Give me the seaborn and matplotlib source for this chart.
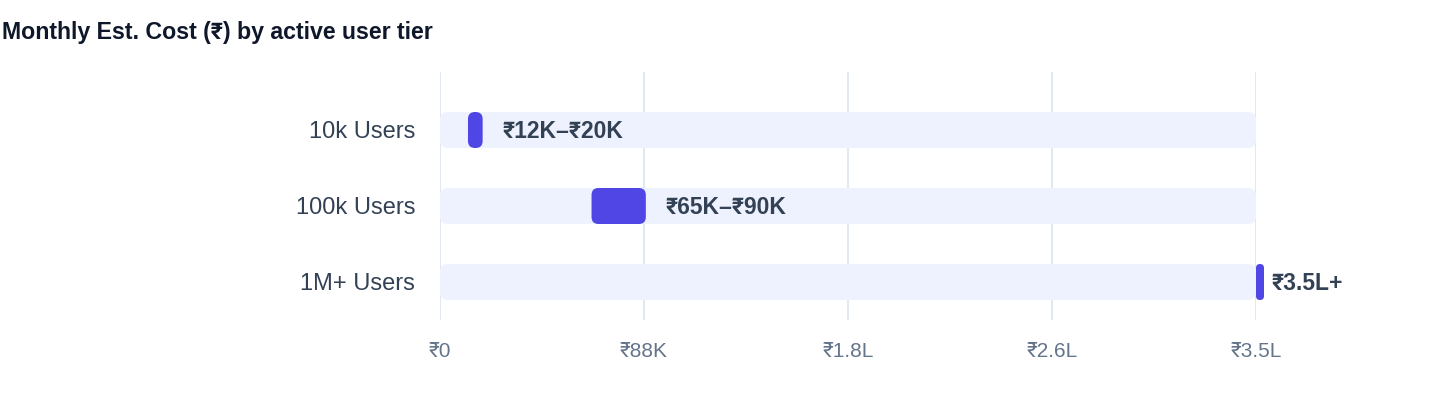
import matplotlib
matplotlib.use("Agg")
import matplotlib.pyplot as plt
from matplotlib.patches import FancyBboxPatch
import seaborn as sns
import pandas as pd

# ---- data ----
tiers = ["10k Users", "100k Users", "1M+ Users"]
cost_low = [12000, 65000, 350000]
cost_high = [20000, 90000, 350000]
track_max = [350000, 350000, 350000]
range_labels = ["₹12K–₹20K", "₹65K–₹90K", "₹3.5L+"]
tick_values = [0, 87500, 175000, 262500, 350000]
tick_labels = ["₹0", "₹88K", "₹1.8L", "₹2.6L", "₹3.5L"]
title = "Monthly Est. Cost (₹) by active user tier"

# ---- style ----
sns.set_theme(style="white")
FONTS = ["Liberation Sans", "Roboto", "DejaVu Sans"]
plt.rcParams["font.family"] = FONTS

C_TRACK = "#eef1fe"
C_BAR = "#4f46e5"
C_GRID = "#e2e8f0"
C_YLAB = "#334155"
C_XLAB = "#64748b"
C_TITLE = "#0f172a"

W, H = 1440, 408
fig = plt.figure(figsize=(W / 100, H / 100), dpi=100)
ax_left, ax_right, ax_top, ax_bot = 440, 1256, 72, 320
ax = fig.add_axes([ax_left / W, 1 - ax_bot / H, (ax_right - ax_left) / W, (ax_bot - ax_top) / H])

df = pd.DataFrame({"tier": tiers, "lo": cost_low, "hi": cost_high, "track": track_max})

row_px = 76.0
bar_h = 36.0 / row_px

sns.barplot(data=df, y="tier", x="track", color=C_TRACK, width=bar_h, ax=ax,
            orient="h", saturation=1, zorder=2)
n_track = len(ax.patches)
sns.barplot(data=df, y="tier", x="hi", color=C_BAR, width=bar_h, ax=ax,
            orient="h", saturation=1, zorder=3)

ax.set_xlim(0, 350000)
ax.set_ylim(2 + (ax_bot - 282) / row_px, -(130 - ax_top) / row_px)

x_per_px = 350000 / (ax_right - ax_left)
y_per_px = 1.0 / row_px
aspect = y_per_px / x_per_px

patches = list(ax.patches)
for i, p in enumerate(patches):
    y0, h = p.get_y(), p.get_height()
    color = p.get_facecolor()
    p.remove()
    if i < n_track:
        x0 = 0
        w = p.get_width()
        r = 8 * x_per_px
        z = 2
    else:
        k = i - n_track
        x0 = cost_low[k]
        w_px = max((cost_high[k] - cost_low[k]) / x_per_px - 4, 8)
        w = w_px * x_per_px
        r = min(7, w_px / 2) * x_per_px
        z = 3
    fb = FancyBboxPatch((x0, y0), w, h,
                        boxstyle=f"round,pad=0,rounding_size={r}",
                        mutation_aspect=aspect, facecolor=color,
                        edgecolor="none", zorder=z, clip_on=False)
    ax.add_patch(fb)

for k, lab in enumerate(range_labels):
    ax.annotate(lab, xy=(cost_high[k], k), xytext=(16 * 0.72, -1.2),
                textcoords="offset points", ha="left", va="center",
                fontsize=16.5, fontweight="bold", color=C_YLAB, family=FONTS,
                annotation_clip=False)

ax.set_xticks(tick_values)
ax.set_xticklabels(tick_labels)
ax.tick_params(axis="x", length=0, pad=16, labelsize=15, labelcolor=C_XLAB)
ax.tick_params(axis="y", length=0, pad=18, labelsize=17, labelcolor=C_YLAB)
ax.set_xlabel("")
ax.set_ylabel("")
ax.grid(axis="x", color=C_GRID, linewidth=1.5)
ax.grid(axis="y", visible=False)
ax.set_axisbelow(True)
for s in ax.spines.values():
    s.set_visible(False)

fig.text(2 / W, 1 - 32 / H, title, ha="left", va="center", fontsize=16.7,
         fontweight="bold", color=C_TITLE, family=FONTS)

fig.savefig("out.png", dpi=100)
